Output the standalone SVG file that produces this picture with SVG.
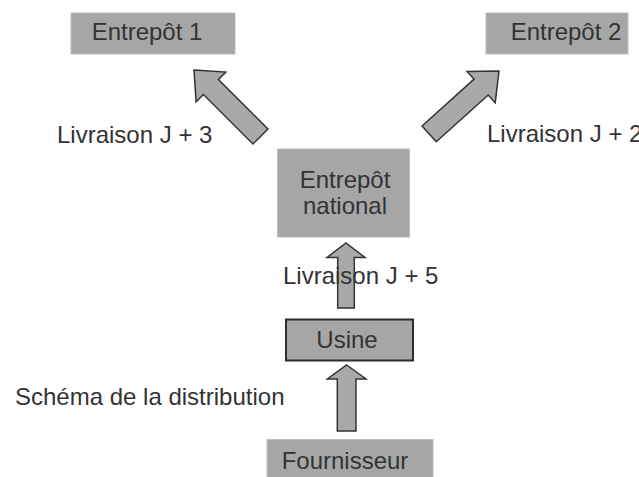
<svg xmlns="http://www.w3.org/2000/svg" width="639" height="477" viewBox="0 0 639 477">
  <style>
    .box { fill: #a6a6a6; stroke: #bdbdbd; stroke-width: 1; }
    .box-strong { fill: #a6a6a6; stroke: #2e2e2e; stroke-width: 2; }
    .arrow { fill: #a9a9a9; stroke: #333333; stroke-width: 1.5; stroke-linejoin: miter; }
    text { font-family: "Liberation Sans", Arial, sans-serif; font-size: 24px; fill: #333333; }
    .c { text-anchor: middle; }
  </style>
  <defs>
    <!-- diagonal arrow, drawn pointing up with its tip at the origin -->
    <polygon id="diag-arrow" points="0,0 21,24 10.6,24 10.6,94 -10.6,94 -10.6,24 -21,24"/>
  </defs>

  <rect width="639" height="477" fill="#ffffff"/>

  <g id="connectors">
    <use href="#diag-arrow" class="arrow" transform="translate(194,70) rotate(-45)"/>
    <use href="#diag-arrow" class="arrow" transform="translate(499,71) rotate(48)"/>
    <polygon class="arrow" points="346,243 365,257.5 354.3,257.5 354.3,308 337.7,308 337.7,257.5 327,257.5"/>
    <polygon class="arrow" points="346.7,365 366,379 356,379 356,431 337.3,431 337.3,379 327.3,379"/>
  </g>

  <g id="entrepot1">
    <rect class="box" x="71" y="13" width="164" height="41"/>
    <text class="c" x="147" y="40">Entrepôt 1</text>
  </g>

  <g id="entrepot2">
    <rect class="box" x="486" y="13" width="142" height="41"/>
    <text class="c" x="566" y="40">Entrepôt 2</text>
  </g>

  <g id="entrepot-national">
    <rect class="box" x="277.5" y="149" width="132" height="88"/>
    <text class="c" x="345" y="188">Entrepôt</text>
    <text class="c" x="345" y="214">national</text>
  </g>

  <g id="usine">
    <rect class="box-strong" x="286" y="319.5" width="127" height="41"/>
    <text class="c" x="347" y="348">Usine</text>
  </g>

  <g id="fournisseur">
    <rect class="box" x="267" y="439.5" width="166" height="40"/>
    <text class="c" x="345" y="469">Fournisseur</text>
  </g>

  <g id="labels">
    <text x="57" y="143">Livraison J + 3</text>
    <text x="487" y="142">Livraison J + 2</text>
    <text x="283" y="284">Livraison J + 5</text>
    <text x="15" y="405">Schéma de la distribution</text>
  </g>
</svg>
